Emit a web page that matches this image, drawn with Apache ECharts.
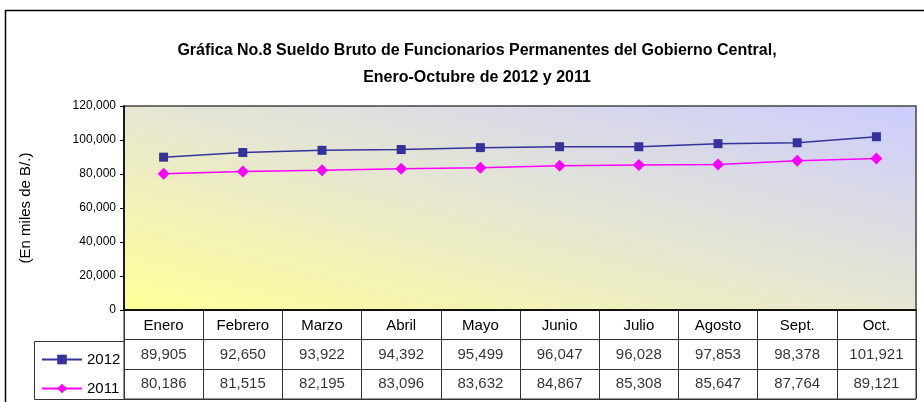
<!DOCTYPE html>
<html><head><meta charset="utf-8">
<script src="https://cdn.jsdelivr.net/npm/echarts@6/dist/echarts.min.js"></script>
<style>html,body{margin:0;padding:0;background:#fff}#c{width:924px;height:402px}</style>
</head><body><div id="c"></div>
<script>
var months = ['Enero','Febrero','Marzo','Abril','Mayo','Junio','Julio','Agosto','Sept.','Oct.'];
var s2012 = [89905,92650,93922,94392,95499,96047,96028,97853,98378,101921];
var s2011 = [80186,81515,82195,83096,83632,84867,85308,85647,87764,89121];
var yTicks = {min:0, max:120000, interval:20000};
var FONT = '"Liberation Sans", Arial, sans-serif';
function fmt(v){ return Number(v).toLocaleString('en-US'); }

var chart = echarts.init(document.getElementById('c'), null, {renderer:'canvas'});
function tableData(arr, row){ return arr.map(function(v,i){ return [i, row, v]; }); }
var legendBase = {orient:'vertical', left:36, itemWidth:40, itemHeight:12,
  textStyle:{fontFamily:FONT, fontSize:15, color:'#000'}};
var bg = new echarts.graphic.LinearGradient(471, 399, 569, 17,
  [{offset:0,color:'#ffff99'},{offset:0.5,color:'#e6e6d2'},{offset:1,color:'#ccccff'}], true);
chart.setOption({
  animation:false,
  backgroundColor:'#fff',
  title:{
    text:'Gráfica No.8 Sueldo Bruto de Funcionarios Permanentes del Gobierno Central,\nEnero-Octubre de 2012 y 2011',
    left:472, top:32, textAlign:'center',
    textStyle:{fontFamily:FONT, fontSize:16, fontWeight:'bold', color:'#000', lineHeight:27}
  },
  legend:[
    Object.assign({data:['2012'], top:347}, legendBase),
    Object.assign({data:['2011'], top:376}, legendBase)
  ],
  graphic:[
    {type:'rect', shape:{x:5.5, y:10.5, width:1000, height:500}, style:{fill:null, stroke:'#000', lineWidth:1.5}, silent:true, z:-10},
    {type:'rect', shape:{x:34.5, y:341.5, width:90, height:58}, style:{fill:null, stroke:'#333', lineWidth:1}, silent:true}
  ],
  grid:[
    {left:124, right:8, top:106, bottom:92, show:true, borderColor:'#444', borderWidth:1.5, backgroundColor:bg},
    {left:124, right:8, top:310, bottom:3, show:true, borderColor:'#333', borderWidth:1}
  ],
  xAxis:[
    {type:'category', gridIndex:0, data:months, boundaryGap:true,
     axisLine:{lineStyle:{color:'#000', width:1.5}}, axisTick:{show:false},
     axisLabel:{fontFamily:FONT, fontSize:15, color:'#000', margin:8}},
    {type:'category', gridIndex:1, data:months, boundaryGap:true,
     axisLine:{show:false}, axisTick:{show:false}, axisLabel:{show:false},
     splitLine:{show:true, lineStyle:{color:'#333', width:1}}}
  ],
  yAxis:[
    {type:'value', gridIndex:0, min:yTicks.min, max:yTicks.max, interval:yTicks.interval,
     name:'(En miles de B/.)', nameLocation:'middle', nameRotate:90, nameGap:91,
     nameTextStyle:{fontFamily:FONT, fontSize:15, color:'#000'},
     axisLine:{show:true, lineStyle:{color:'#000', width:1.5}},
     axisTick:{show:true, length:4, lineStyle:{color:'#000'}},
     axisLabel:{fontFamily:FONT, fontSize:12, color:'#000', margin:8, formatter:fmt},
     splitLine:{show:false}},
    {type:'category', gridIndex:1, data:['2011','2012',''], boundaryGap:true,
     axisLine:{show:false}, axisTick:{show:false}, axisLabel:{show:false},
     splitLine:{show:true, lineStyle:{color:'#333', width:1}}}
  ],
  series:[
    {name:'2012', type:'line', xAxisIndex:0, yAxisIndex:0, data:s2012,
     symbol:'rect', symbolSize:9, showAllSymbol:true,
     lineStyle:{color:'#333399', width:1.5}, itemStyle:{color:'#333399'}},
    {name:'2011', type:'line', xAxisIndex:0, yAxisIndex:0, data:s2011,
     symbol:'diamond', symbolSize:12, showAllSymbol:true,
     lineStyle:{color:'#ff00ff', width:1.5}, itemStyle:{color:'#ff00ff'}},
    {name:'t2012', type:'scatter', xAxisIndex:1, yAxisIndex:1, data:tableData(s2012,'2012'),
     symbolSize:1, itemStyle:{color:'rgba(0,0,0,0)'},
     label:{show:true, position:'inside', fontFamily:FONT, fontSize:15, color:'#000',
       formatter:function(p){return fmt(p.value[2]);}}},
    {name:'t2011', type:'scatter', xAxisIndex:1, yAxisIndex:1, data:tableData(s2011,'2011'),
     symbolSize:1, itemStyle:{color:'rgba(0,0,0,0)'},
     label:{show:true, position:'inside', fontFamily:FONT, fontSize:15, color:'#000',
       formatter:function(p){return fmt(p.value[2]);}}}
  ]
});
</script></body></html>
